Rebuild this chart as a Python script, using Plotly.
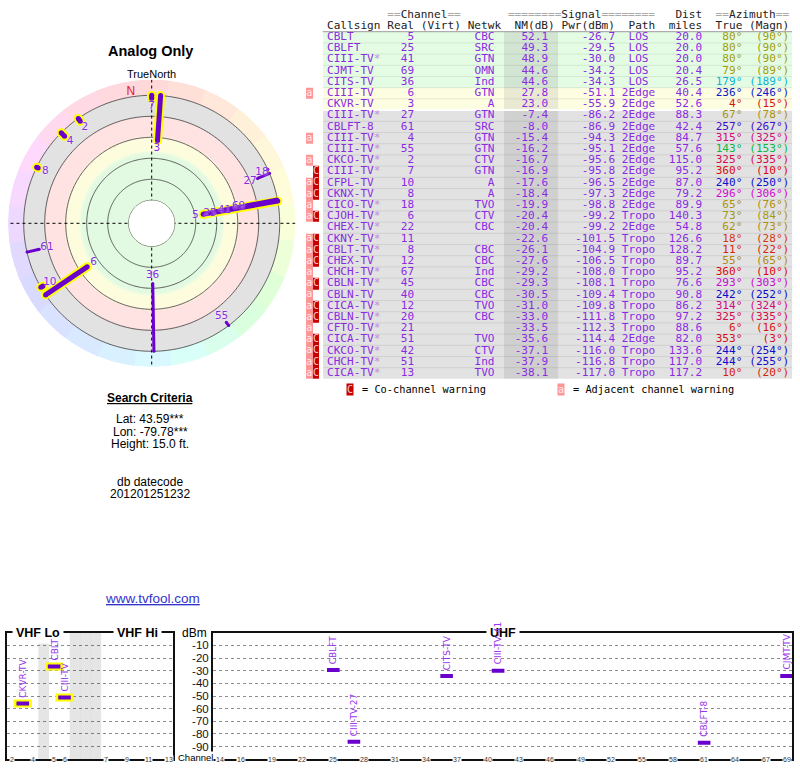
import colorsys
import numpy as np
import plotly.graph_objects as go

W, H = 800, 768
ARIAL = "Liberation Sans, Arial, sans-serif"
MONO = "DejaVu Sans Mono, monospace"
SANS = "DejaVu Sans, Verdana, sans-serif"
PURPLE_TXT = "#8a2be2"
PURPLE_LINE = "#6a00cc"
YELLOW = "#ffff00"

# ---------------------------------------------------------------- data
callsigns = ["CBLT", "CBLFT", "CIII-TV*", "CJMT-TV", "CITS-TV", "CIII-TV", "CKVR-TV",
             "CIII-TV*", "CBLFT-8", "CIII-TV*", "CIII-TV*", "CKCO-TV*", "CIII-TV*",
             "CFPL-TV", "CKNX-TV", "CICO-TV*", "CJOH-TV*", "CHEX-TV*", "CKNY-TV*",
             "CBLT-TV*", "CHEX-TV", "CHCH-TV*", "CBLN-TV*", "CBLN-TV", "CICA-TV*",
             "CBLN-TV*", "CFTO-TV*", "CICA-TV*", "CKCO-TV*", "CHCH-TV*", "CICA-TV*"]
channels = [5, 25, 41, 69, 36, 6, 3, 27, 61, 4, 55, 2, 7, 10, 8, 18, 6, 22, 11, 8, 12,
            67, 45, 40, 12, 20, 21, 51, 42, 51, 13]
networks = ["CBC", "SRC", "GTN", "OMN", "Ind", "GTN", "A", "GTN", "SRC", "GTN", "GTN",
            "CTV", "GTN", "A", "A", "TVO", "CTV", "CBC", "", "CBC", "CBC", "Ind", "CBC",
            "CBC", "TVO", "CBC", "", "TVO", "CTV", "Ind", "TVO"]
nm_db = [52.1, 49.3, 48.9, 44.6, 44.6, 27.8, 23.0, -7.4, -8.0, -15.4, -16.2, -16.7,
         -16.9, -17.6, -18.4, -19.9, -20.4, -20.4, -22.6, -26.1, -27.6, -29.2, -29.3,
         -30.5, -31.0, -33.0, -33.5, -35.6, -37.1, -37.9, -38.1]
pwr_dbm = [-26.7, -29.5, -30.0, -34.2, -34.3, -51.1, -55.9, -86.2, -86.9, -94.3, -95.1,
           -95.6, -95.8, -96.5, -97.3, -98.8, -99.2, -99.2, -101.5, -104.9, -106.5,
           -108.0, -108.1, -109.4, -109.8, -111.8, -112.3, -114.4, -116.0, -116.8, -117.0]
paths = (["LOS"] * 5 + ["2Edge"] * 11 + ["Tropo", "2Edge"] + ["Tropo"] * 9
         + ["2Edge", "Tropo", "Tropo", "Tropo"])
dist_mi = [20.0, 20.0, 20.0, 20.4, 26.5, 40.4, 52.6, 88.3, 42.4, 84.7, 57.6, 115.0, 95.2,
           87.0, 79.2, 89.9, 140.3, 54.8, 126.6, 128.2, 89.7, 95.2, 76.6, 90.8, 86.2,
           97.2, 88.6, 82.0, 133.6, 117.0, 117.2]
az_true = [80, 80, 80, 79, 179, 236, 4, 67, 257, 315, 143, 325, 360, 240, 296, 65, 73,
           62, 18, 11, 55, 360, 293, 242, 314, 325, 6, 353, 244, 244, 10]
az_magn = [90, 90, 90, 89, 189, 246, 15, 78, 267, 325, 153, 335, 10, 250, 306, 76, 84,
           73, 28, 22, 65, 10, 303, 252, 324, 335, 16, 3, 254, 255, 20]
adj_warn = [0, 0, 0, 0, 0, 1, 0, 0, 0, 1, 0, 1, 0, 1, 1, 1, 1, 0] + [1] * 13
co_warn = [0] * 12 + [1, 1, 1, 0, 1, 0, 1, 1, 1, 0, 1, 0, 1, 1, 0, 1, 1, 1, 1]
row_band = ["green"] * 5 + ["yellow"] * 2 + ["gray"] * 24

vhf_tick_channels = [2, 4, 5, 6, 7, 9, 11, 13]
uhf_tick_channels = [14] + list(range(16, 68, 3)) + [69]
dbm_ticks = [-10, -20, -30, -40, -50, -60, -70, -80, -90]
ring_db = [80, 60, 40, 20, 0, -20]

N = len(callsigns)


def px_x(x):
    return x / W


def px_y(y):
    return 1 - y / H


HUE_AZ = [0, 30, 55, 80, 120, 143, 179, 240, 296, 325, 360]
HUE_H = [0, 22, 45, 58, 110, 140, 190, 238, 300, 340, 360]


def az_hue(az):
    return float(np.interp(az % 360, HUE_AZ, HUE_H))


def to_hex(rgb):
    return "#%02x%02x%02x" % tuple(int(round(255 * c)) for c in rgb)


def az_dark(az):
    h = az_hue(az)
    light = float(np.interp(h, [0, 20, 45, 60, 90, 140, 190, 240, 360],
                            [0.45, 0.43, 0.37, 0.33, 0.35, 0.38, 0.44, 0.42, 0.44]))
    return to_hex(colorsys.hls_to_rgb(h / 360, light, 0.9))


def az_pastel(az):
    return to_hex(colorsys.hls_to_rgb(az_hue(az) / 360, 0.925, 1.0))


fig = go.Figure()

# ---------------------------------------------------------------- polar
HOLE_DB, EDGE_DB, OUTER_DB = 80, -20, -35
TH = np.linspace(0, 360, 361)

c_green, c_yel, c_pink, c_gray = (226, 250, 226), (253, 253, 222), (255, 226, 226), (226, 226, 226)
band_db = [-20, -1, 1, 18, 21, 32, 36, 80]
band_rgb = [c_gray, c_gray, c_pink, c_pink, c_yel, c_yel, c_green, c_green]


def band_color(v):
    return tuple(int(round(np.interp(v, band_db, [c[k] for c in band_rgb]))) for k in range(3))


groups = []
prev = None
for lo in np.arange(EDGE_DB, HOLE_DB, 1.0):
    c = band_color(lo + 0.5)
    if c != prev:
        groups.append((lo, c))
        prev = c
for outer, c in groups:
    col = "rgb(%d,%d,%d)" % c
    fig.add_trace(go.Scatterpolar(
        r=np.r_[np.full(TH.size, outer), np.full(TH.size, HOLE_DB)],
        theta=np.r_[TH, TH[::-1]], mode="lines", fill="toself", fillcolor=col,
        line=dict(width=0, color=col), hoverinfo="skip", showlegend=False))

# azimuth colour ring
for c in range(0, 360, 15):
    th = np.linspace(c - 8, c + 8, 17)
    col = az_pastel(c)
    fig.add_trace(go.Scatterpolar(
        r=np.r_[np.full(th.size, OUTER_DB), np.full(th.size, EDGE_DB)],
        theta=np.r_[th, th[::-1]], mode="lines", fill="toself", fillcolor=col,
        line=dict(width=0, color=col), hoverinfo="skip", showlegend=False))

# circles
cr, ct = [], []
for lv in ring_db:
    cr += [lv] * TH.size + [None]
    ct += list(TH) + [None]
fig.add_trace(go.Scatterpolar(r=cr, theta=ct, mode="lines",
                              line=dict(color="#3a3a3a", width=0.8),
                              hoverinfo="skip", showlegend=False))
# crosshair
fig.add_trace(go.Scatterpolar(r=[OUTER_DB, OUTER_DB, None, OUTER_DB, OUTER_DB],
                              theta=[0, 180, None, 90, 270], mode="lines",
                              line=dict(color="black", width=1, dash="dot"),
                              cliponaxis=False, hoverinfo="skip", showlegend=False))

pol_idx = [i for i in range(N) if nm_db[i] > EDGE_DB]
vhf_p = [i for i in pol_idx if channels[i] <= 13]
uhf_p = [i for i in pol_idx if channels[i] > 13]


def segs(idxs):
    r, t = [], []
    for i in idxs:
        r += [nm_db[i], EDGE_DB, None]
        t += [az_true[i], az_true[i], None]
    return r, t


r_v, t_v = segs(vhf_p)
r_u, t_u = segs(uhf_p)
fig.add_trace(go.Scatterpolar(r=r_v, theta=t_v, mode="lines+markers",
                              line=dict(color=YELLOW, width=9),
                              marker=dict(color=YELLOW, size=9),
                              hoverinfo="skip", showlegend=False))
fig.add_trace(go.Scatterpolar(r=r_u, theta=t_u, mode="lines+markers",
                              line=dict(color=PURPLE_LINE, width=3),
                              marker=dict(color=PURPLE_LINE, size=3),
                              hoverinfo="skip", showlegend=False))
fig.add_trace(go.Scatterpolar(r=r_v, theta=t_v, mode="lines+markers",
                              line=dict(color=PURPLE_LINE, width=5),
                              marker=dict(color=PURPLE_LINE, size=5),
                              hoverinfo="skip", showlegend=False))

# labels (pushed inward from the inner end, de-overlapped)
LABEL_IN, LABEL_GAP = 7.5, 14.0
lab_r = {}
for i in sorted(pol_idx, key=lambda k: -nm_db[k]):
    r = nm_db[i] + LABEL_IN
    for j in sorted(lab_r, key=lambda k: -lab_r[k]):
        d = abs(((az_true[i] - az_true[j] + 180) % 360) - 180)
        if d < 5 and r > lab_r[j] - LABEL_GAP:
            r = lab_r[j] - LABEL_GAP
    lab_r[i] = r
fig.add_trace(go.Scatterpolar(
    r=[lab_r[i] for i in pol_idx], theta=[az_true[i] for i in pol_idx],
    text=[str(channels[i]) for i in pol_idx], mode="text",
    textfont=dict(family=SANS, size=10.5, color=PURPLE_TXT, shadow="0px 0px 2px #ffffff"),
    cliponaxis=False, hoverinfo="skip", showlegend=False))
fig.add_trace(go.Scatterpolar(r=[-24.5], theta=[351], text=["N"], mode="text",
                              textfont=dict(family=ARIAL, size=12, color="#e02020"),
                              cliponaxis=False, hoverinfo="skip", showlegend=False))

CX, CY, R = 151.7, 223.3, 143.75
polar = dict(
    domain=dict(x=[px_x(CX - R), px_x(CX + R)], y=[px_y(CY + R), px_y(CY - R)]),
    hole=23.0 / R, bgcolor="rgba(0,0,0,0)",
    radialaxis=dict(range=[HOLE_DB, OUTER_DB], visible=False),
    angularaxis=dict(rotation=90, direction="clockwise", visible=False))

# ---------------------------------------------------------------- table
CODE = {"white": 0, "green": 1, "green_nm": 2, "yellow": 3, "yellow_nm": 4,
        "gray": 5, "gray_nm": 6, "adj": 7, "co": 8}
PAL = ["#ffffff", "#e4fce4", "#d2e4d2", "#fdfde2", "#e9e9d4", "#e2e2e2", "#d0d0d0",
       "#ff9696", "#c40000"]
ncode = len(PAL)
cscale = []
for k, c in enumerate(PAL):
    cscale += [[k / ncode, c], [(k + 1) / ncode, c]]
col_edges = [-3.13, -2.14, -1.15, -0.65, 26.4, 34.5, 69.4]
z = []
for i in range(N):
    b = row_band[i]
    z.append([CODE["adj"] if adj_warn[i] else 0, CODE["co"] if co_warn[i] else 0, 0,
              CODE[b], CODE[b + "_nm"], CODE[b]])
rows = list(range(N))
fig.add_trace(go.Heatmap(z=z, x=col_edges, y=rows, colorscale=cscale, zmin=-0.5,
                         zmax=ncode - 0.5, showscale=False, hoverinfo="skip",
                         xaxis="x2", yaxis="y2", xgap=0, ygap=0))
# row separators
sx, sy = [], []
for i in range(N - 1):
    sx += [-0.65, 69.4, None]
    sy += [i + 0.5, i + 0.5, None]
fig.add_trace(go.Scatter(x=sx, y=sy, mode="lines", line=dict(color="rgba(0,0,0,0.08)", width=1),
                         xaxis="x2", yaxis="y2", hoverinfo="skip", showlegend=False))
brk = [i for i in range(N - 1) if row_band[i] == "yellow" and row_band[i + 1] == "gray"]
fig.add_trace(go.Scatter(x=[-0.65, 69.4], y=[brk[0] + 0.5] * 2, mode="lines",
                         line=dict(color="white", width=2), xaxis="x2", yaxis="y2",
                         hoverinfo="skip", showlegend=False))
fig.add_trace(go.Scatter(x=[-0.65, 69.4], y=[-0.5, -0.5], mode="lines",
                         line=dict(color="#9a9a9a", width=1), xaxis="x2", yaxis="y2",
                         hoverinfo="skip", showlegend=False))

TFS = 11.1


def col_text(x, texts, pos, colors=PURPLE_TXT, size=TFS, ys=None):
    fig.add_trace(go.Scatter(x=[x] * len(texts), y=ys if ys is not None else rows,
                             text=texts, mode="text", textposition=pos,
                             textfont=dict(family=MONO, size=size, color=colors),
                             xaxis="x2", yaxis="y2", cliponaxis=False,
                             hoverinfo="skip", showlegend=False))


star = "<span style='color:#b58ce8'>*</span>"
col_text(0, [c.replace("*", star) for c in callsigns], "middle right")
col_text(13, [str(c) for c in channels], "middle left")
col_text(25, networks, "middle left")
col_text(33, ["%.1f" % v for v in nm_db], "middle left")
col_text(43, ["%.1f" % v for v in pwr_dbm], "middle left")
col_text(46.5, paths, "middle center")
col_text(56, ["%.1f" % v for v in dist_mi], "middle left")
col_text(62, ["%d°" % a for a in az_true], "middle left", [az_dark(a) for a in az_true])
col_text(69, ["(%d°)" % a for a in az_magn], "middle left", [az_dark(a) for a in az_true])
# warning icon letters
ai = [i for i in range(N) if adj_warn[i]]
ci = [i for i in range(N) if co_warn[i]]
col_text(-2.64, ["a"] * len(ai), "middle center", "#ffe8e8", 10, ai)
col_text(-1.64, ["C"] * len(ci), "middle center", "#ffc8c8", 10, ci)

# header
eq = lambda n: "<span style='color:#a8a8a8'>" + "=" * n + "</span>"
hdr1 = [(9, eq(2) + "Channel" + eq(2)), (27, eq(8) + "Signal" + eq(8)), (52, "Dist"),
        (58, eq(2) + "Azimuth" + eq(2))]
hdr2 = [(0, "Callsign"), (9, "Real"), (14, "(Virt)"), (21, "Netwk"), (28, "NM(dB)"),
        (35, "Pwr(dBm)"), (45, "Path"), (51, "miles"), (58, "True"), (63, "(Magn)")]
for yy, hdr in ((-2, hdr1), (-1, hdr2)):
    fig.add_trace(go.Scatter(x=[h[0] for h in hdr], y=[yy] * len(hdr),
                             text=[h[1] for h in hdr], mode="text",
                             textposition="middle right",
                             textfont=dict(family=MONO, size=TFS, color="#222222"),
                             xaxis="x2", yaxis="y2", cliponaxis=False,
                             hoverinfo="skip", showlegend=False))

# ---------------------------------------------------------------- bottom spectrum
def vhf_slot(ch):
    return ch - 2 if ch <= 4 else (ch - 1 if ch <= 6 else ch + 2)


vhf_gap_slots = [3, 6, 7, 8]
fig.add_trace(go.Bar(x=vhf_gap_slots, y=[100] * len(vhf_gap_slots), base=-100, width=1.02,
                     marker=dict(color="rgba(0,0,0,0.10)", line=dict(width=0)),
                     xaxis="x3", yaxis="y3", hoverinfo="skip", showlegend=False))

bot = [i for i in range(N) if nm_db[i] > -10]
vb = [i for i in bot if channels[i] <= 13]
ub = [i for i in bot if channels[i] > 13]
fig.add_trace(go.Scatter(x=[vhf_slot(channels[i]) for i in vb], y=[pwr_dbm[i] for i in vb],
                         mode="markers", marker=dict(symbol="line-ew", size=13,
                                                     line=dict(width=8, color=YELLOW)),
                         xaxis="x3", yaxis="y3", hoverinfo="skip", showlegend=False))
fig.add_trace(go.Scatter(x=[vhf_slot(channels[i]) for i in vb], y=[pwr_dbm[i] for i in vb],
                         mode="markers", marker=dict(symbol="line-ew", size=9,
                                                     line=dict(width=4, color=PURPLE_LINE)),
                         xaxis="x3", yaxis="y3", hoverinfo="skip", showlegend=False))
fig.add_trace(go.Scatter(x=[channels[i] for i in ub], y=[pwr_dbm[i] for i in ub],
                         mode="markers", marker=dict(symbol="line-ew", size=9,
                                                     line=dict(width=4, color=PURPLE_LINE)),
                         xaxis="x4", yaxis="y4", hoverinfo="skip", showlegend=False))

ann = []


def short_name(i):
    c = callsigns[i]
    return c.rstrip("*") + "-" + str(channels[i]) if c.endswith("*") else c


# frame titles (white background breaks the frame line)
for x, t, xr in ((2.5, "VHF Lo", "x3"), (12.0, "VHF Hi", "x3"), (41.5, "UHF", "x4")):
    ann.append(dict(x=x, y=0, xref=xr, yref="y3" if xr == "x3" else "y4", text="<b>%s</b>" % t,
                    showarrow=False, bgcolor="white", borderpad=3, yanchor="middle",
                    font=dict(family=ARIAL, size=12.5, color="black")))
for i in vb:
    ann.append(dict(x=vhf_slot(channels[i]), y=pwr_dbm[i], xref="x3", yref="y3",
                    text=short_name(i), textangle=-90, showarrow=False, yanchor="bottom",
                    yshift=4, font=dict(family=SANS, size=9, color="#9933ee")))
for i in ub:
    ann.append(dict(x=channels[i], y=pwr_dbm[i], xref="x4", yref="y4",
                    text=short_name(i), textangle=-90, showarrow=False, yanchor="bottom",
                    yshift=4, font=dict(family=SANS, size=9, color="#9933ee")))
for ch in vhf_tick_channels:
    ann.append(dict(x=vhf_slot(ch), y=-100, xref="x3", yref="y3", text=str(ch),
                    showarrow=False, bgcolor="white", borderpad=0, yanchor="middle",
                    font=dict(family=ARIAL, size=7, color="#333333")))
for ch in uhf_tick_channels:
    ann.append(dict(x=ch, y=-100, xref="x4", yref="y4", text=str(ch),
                    showarrow=False, bgcolor="white", borderpad=0, yanchor="middle",
                    font=dict(family=ARIAL, size=7, color="#333333")))


def ptext(x, y, t, size=12, color="black", xanchor="center", family=ARIAL, **kw):
    ann.append(dict(x=px_x(x), y=px_y(y), xref="paper", yref="paper", text=t,
                    showarrow=False, xanchor=xanchor, yanchor="middle",
                    font=dict(family=family, size=size, color=color), **kw))


ptext(194, 633, "dBm", 12)
ptext(195, 757, "Channel", 9.5, bgcolor="white", borderpad=0)
ptext(150, 51, "<b>Analog Only</b>", 14.5)
ptext(151, 74, "TrueNorth", 11)
ptext(150, 398, "<b><u>Search Criteria</u></b>", 12)
ptext(150, 419, "Lat: 43.59***", 12)
ptext(150, 432, "Lon: -79.78***", 12)
ptext(150, 444, "Height: 15.0 ft.", 12)
ptext(150, 482, "db datecode", 12)
ptext(150, 494, "201201251232", 12)
ptext(152, 598, "<u>www.tvfool.com</u>", 13.5, "#3333cc")
# table legend
ptext(350, 389, "C", 10, "#ffc8c8", family=MONO, bgcolor="#c40000", borderpad=0)
ptext(360, 389, "= Co-channel warning", 10.3, "black", xanchor="left", family=MONO)
ptext(561, 389, "a", 10, "#ffe8e8", family=MONO, bgcolor="#ff9696", borderpad=0)
ptext(571, 389, "= Adjacent channel warning", 10.3, "black", xanchor="left", family=MONO)

# ---------------------------------------------------------------- layout
ydom = [px_y(759.3), px_y(632.7)]
frame = dict(showline=True, mirror=True, linewidth=2, linecolor="#111111",
             zeroline=False, ticks="", fixedrange=True)
grid_y = dict(range=[-100, 0], tickvals=dbm_ticks, showgrid=True, gridcolor="#8c8c8c",
              griddash="dot", gridwidth=1, domain=ydom)
fig.update_layout(
    width=W, height=H, margin=dict(l=0, r=0, t=0, b=0),
    paper_bgcolor="white", plot_bgcolor="rgba(0,0,0,0)", showlegend=False,
    hovermode=False, polar=polar, annotations=ann,
    xaxis2=dict(domain=[300 / W, 1], range=[(300 - 327) / 6.7, (800 - 327) / 6.7],
                visible=False, anchor="y2", fixedrange=True),
    yaxis2=dict(domain=[1 - 400 / H, 1], range=[(400 - 37.3) / 11.2, -37.3 / 11.2],
                visible=False, anchor="x2", fixedrange=True),
    xaxis3=dict(domain=[7 / W, 173 / W], range=[-0.51, 15.38], showgrid=False,
                showticklabels=False, anchor="y3", **frame),
    yaxis3=dict(anchor="x3", showticklabels=False, **grid_y, **frame),
    xaxis4=dict(domain=[213 / W, 792 / W], range=[13.32, 69.53], showgrid=False,
                showticklabels=False, anchor="y4", **frame),
    yaxis4=dict(anchor="x4", side="left", ticktext=[str(v) for v in dbm_ticks],
                tickfont=dict(family=ARIAL, size=11.5, color="#111111"),
                **grid_y, **frame),
)

fig.write_html("out.html", config={"displayModeBar": False},
               post_script="document.body.style.margin='0px';"
                           "document.body.style.overflow='hidden';")
